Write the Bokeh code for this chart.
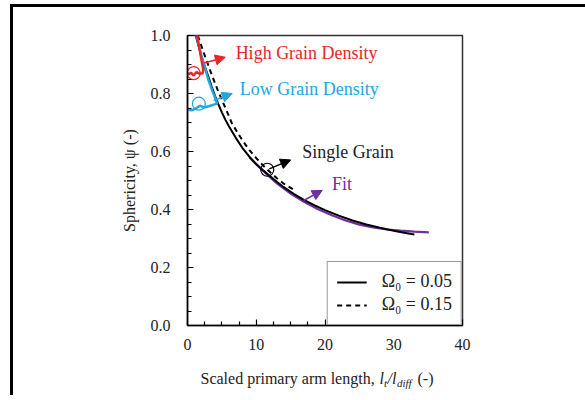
from bokeh.plotting import figure
from bokeh.models import (Range1d, Label, Arrow, NormalHead, Legend, LegendItem,
                          FixedTicker, ColumnDataSource, CustomJSTickFormatter)
from bokeh.layouts import column
from bokeh.core.properties import value
from bokeh.embed import file_html
from bokeh.resources import INLINE

# ---- data ----
solid_x = [1.2, 1.6, 2.0, 2.5, 3.0, 3.5, 4.0, 4.5, 5.0, 5.5, 6.0, 7.0, 8.0, 9.0, 10.0, 11.0,
           12.5, 14.0, 15.5, 17.0, 18.5, 20.0, 22.0, 24.0, 26.0, 28.0, 30.0, 31.5, 33.0]
solid_y = [1.0, 0.965, 0.93, 0.895, 0.86, 0.825, 0.792, 0.762, 0.735, 0.71, 0.688, 0.648, 0.612,
           0.582, 0.556, 0.535, 0.505, 0.477, 0.453, 0.432, 0.414, 0.398, 0.379, 0.362, 0.348,
           0.337, 0.327, 0.320, 0.314]

dash_x = [1.5, 2.0, 2.6, 3.2, 3.8, 4.4, 5.0, 5.7, 6.4, 7.2, 8.0, 9.0, 10.0, 11.0, 12.0, 13.0, 14.0, 15.5]
dash_y = [1.0, 0.965, 0.925, 0.885, 0.848, 0.812, 0.778, 0.740, 0.700, 0.668, 0.638, 0.605,
          0.577, 0.552, 0.529, 0.508, 0.489, 0.468]

fit_x = [9.0, 11.0, 13.0, 15.0, 17.0, 19.0, 21.0, 23.0, 25.0, 27.0, 29.0, 31.0, 33.0, 35.1]
fit_y = [0.580, 0.533, 0.490, 0.455, 0.426, 0.401, 0.380, 0.362, 0.348, 0.338, 0.331, 0.327, 0.324, 0.321]

red_x = [1.4, 1.7, 2.0, 2.2, 2.3, 2.2, 1.8, 1.3, 0.9, 0.5, 0.2, 0.0]
red_y = [1.0, 0.96, 0.92, 0.895, 0.88, 0.87, 0.868, 0.874, 0.862, 0.872, 0.866, 0.87]

blue_x = [1.3, 1.8, 2.4, 3.0, 3.6, 4.1, 4.3, 3.2, 2.4, 1.8, 1.2, 0.6, 0.0]
blue_y = [1.0, 0.95, 0.90, 0.85, 0.81, 0.78, 0.765, 0.757, 0.752, 0.758, 0.748, 0.742, 0.745]

circle_x = [0.9, 1.65, 11.6]
circle_y = [0.87, 0.765, 0.537]
circle_c = ["#e8262b", "#22a6dd", "#000000"]

x_major = [0, 10, 20, 30, 40]
x_minor = [2.5, 5, 7.5, 12.5, 15, 17.5, 22.5, 25, 27.5, 32.5, 35, 37.5]
y_major = [0.0, 0.2, 0.4, 0.6, 0.8, 1.0]
y_minor = [0.05, 0.1, 0.15, 0.25, 0.3, 0.35, 0.45, 0.5, 0.55, 0.65, 0.7, 0.75, 0.85, 0.9, 0.95]

legend_labels = ["Ω₀ = 0.05", "Ω₀ = 0.15"]
annot_text = ["High Grain Density", "Low Grain Density", "Single Grain", "Fit"]
annot_x = [7.0, 7.6, 16.7, 21.0]
annot_y = [0.94, 0.816, 0.598, 0.489]

# x-axis title pieces (text, left position px, font size, style, baseline shift)
xt_text = ["Scaled primary arm length,", "l", "t", "/l", "diff", "(-)"]
xt_pos = [200, 379, 383.5, 387, 396.5, 417]
xt_size = ["16px", "16px", "11px", "16px", "11px", "16px"]
xt_style = ["normal", "italic", "italic", "italic", "italic", "normal"]
xt_dy = [0, 0, 4, 0, 4, 0]

FONT = "Liberation Serif"
RED = "#e8262b"
BLUE = "#22a6dd"
PURPLE = "#7030a0"
TXT = "#222222"

p = figure(width=572, height=360, output_backend="svg", toolbar_location=None,
           x_range=Range1d(0, 40), y_range=Range1d(0, 1),
           min_border_left=174, min_border_right=123, min_border_top=28, min_border_bottom=42)
p.grid.visible = False
p.outline_line_color = "#333333"
p.outline_line_width = 1.5

for ax in (p.xaxis[0], p.yaxis[0]):
    ax.axis_line_color = "black"
    ax.axis_line_width = 1.5
    ax.major_tick_in = 6
    ax.major_tick_out = 0
    ax.minor_tick_in = 4
    ax.minor_tick_out = 0
    ax.major_tick_line_width = 1.2
    ax.minor_tick_line_width = 1.2
    ax.major_label_text_font = FONT
    ax.major_label_text_font_size = "16px"
    ax.major_label_text_color = TXT
p.xaxis.major_label_standoff = 13
p.yaxis.major_label_standoff = 17

p.xaxis.ticker = FixedTicker(ticks=x_major, minor_ticks=x_minor)
p.yaxis.ticker = FixedTicker(ticks=y_major, minor_ticks=y_minor)
p.yaxis.formatter = CustomJSTickFormatter(code="return tick.toFixed(1);")

p.yaxis.axis_label = "Sphericity, ψ (-)"
p.yaxis.axis_label_text_font = FONT
p.yaxis.axis_label_text_font_style = "normal"
p.yaxis.axis_label_text_font_size = "16px"
p.yaxis.axis_label_text_color = TXT
p.yaxis.axis_label_standoff = 10

# curves
p.line(fit_x, fit_y, line_color=PURPLE, line_width=2.2)
r_solid = p.line(solid_x, solid_y, line_color="black", line_width=2)
r_dash = p.line(dash_x, dash_y, line_color="black", line_width=2, line_dash="5 4")
p.line(blue_x, blue_y, line_color=BLUE, line_width=2.5)
p.line(red_x, red_y, line_color=RED, line_width=2.5)

src = ColumnDataSource(dict(x=circle_x, y=circle_y, c=circle_c))
p.scatter("x", "y", source=src, size=13, fill_color=None, line_color="c", line_width=1.2)

# arrows
def arrow(x0, y0, x1, y1, color):
    p.add_layout(Arrow(end=NormalHead(size=10, fill_color=color, line_color=color),
                       x_start=x0, y_start=y0, x_end=x1, y_end=y1,
                       line_color=color, line_width=1.5))

arrow(2.4, 0.905, 5.5, 0.925, RED)
arrow(3.8, 0.776, 6.5, 0.80, BLUE)
arrow(11.9, 0.54, 15.0, 0.571, "black")
arrow(16.9, 0.431, 19.6, 0.466, PURPLE)

for t, x, y, c in zip(annot_text, annot_x, annot_y, [RED, BLUE, TXT, PURPLE]):
    p.add_layout(Label(x=x, y=y, text=t, text_color=c, text_font=FONT,
                       text_font_size="18px", text_baseline="middle"))

legend = Legend(items=[LegendItem(label=legend_labels[0], renderers=[r_solid]),
                       LegendItem(label=legend_labels[1], renderers=[r_dash])],
                location="bottom_right")
legend.margin = 0
legend.padding = 9
legend.spacing = 2
legend.glyph_width = 30
legend.label_standoff = 15
legend.border_line_color = "#333333"
legend.border_line_width = 1
legend.label_text_font = FONT
legend.label_text_font_size = "18px"
legend.label_text_color = TXT
legend.background_fill_alpha = 1
p.add_layout(legend)

# strip below for the x-axis title (needs sub-scripted pieces); its frame is
# aligned with the main frame (page x 187..462), so the range is in page pixels
p2 = figure(width=572, height=28, output_backend="svg", toolbar_location=None,
            x_range=Range1d(187, 462), y_range=Range1d(28, 0),
            x_axis_type=None, y_axis_type=None, min_border=0)
p2.grid.visible = False
p2.outline_line_color = None
for t, x, s, st, dy in zip(xt_text, xt_pos, xt_size, xt_style, xt_dy):
    p2.text(x=[x], y=[11 + dy], text=[t], text_font=value(FONT), text_font_size=s,
            text_font_style=st, text_color=TXT, text_baseline="middle", text_align="left")

layout = column(p, p2, spacing=0)
layout.styles = {"border-top": "3px solid black", "border-left": "3px solid black",
                 "margin-left": "10px", "margin-top": "4px"}

open("out.html", "w").write(file_html(layout, INLINE))
